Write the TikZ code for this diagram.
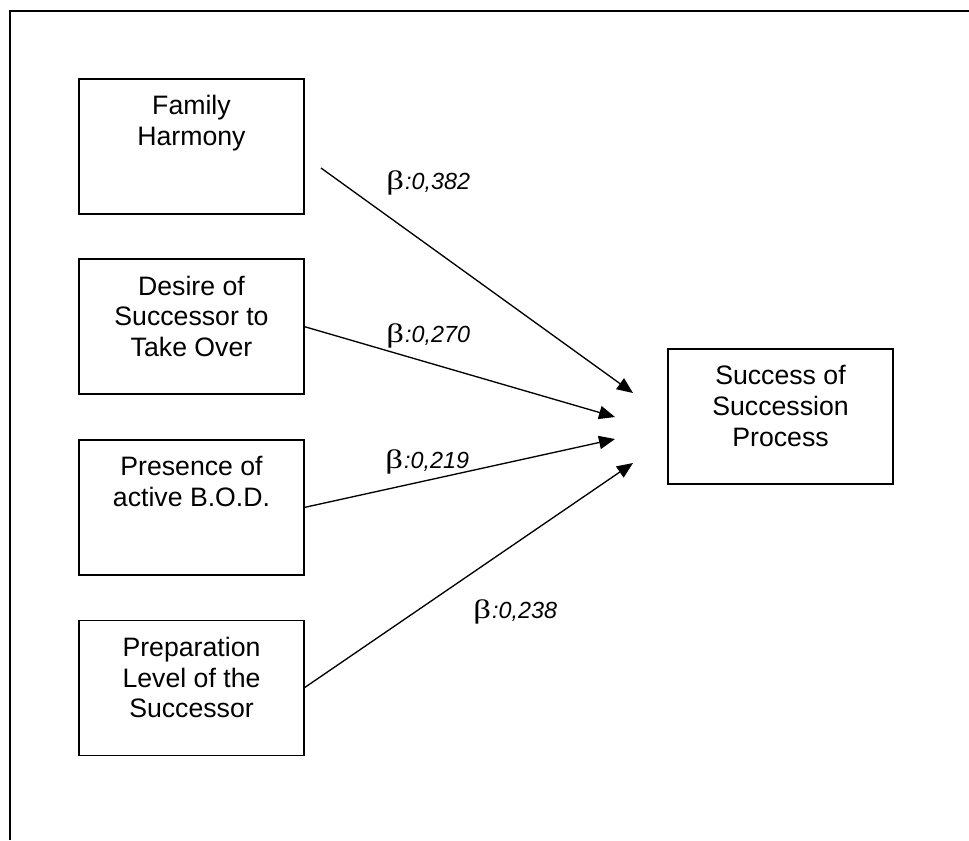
\documentclass[tikz,border=0pt]{standalone}
\usepackage{fontspec}
\usepackage{graphicx}
\setmainfont{Liberation Sans}
\newfontfamily\greekserif{Liberation Serif}
\usetikzlibrary{arrows.meta}
% fixed-size box content, text set from the top
\newcommand{\boxlines}[1]{\parbox[c][101.25pt][t]{168.75pt}{\centering\vspace*{12.5pt}#1\par}}
% regression coefficient label
\newcommand{\betalabel}[1]{{\greekserif\fontsize{20}{20}\selectfont\scalebox{1.3}[1]{β}}\hspace{1pt}{\fontsize{17.5}{19}\selectfont\itshape :#1}}
\begin{document}
\begin{tikzpicture}[x=0.75pt,y=-0.75pt,
  factor/.style={draw=black, line width=1.2pt, inner sep=0pt, outer sep=0pt,
                 font=\fontsize{20}{23}\selectfont},
  effect/.style={line width=1pt, -{Triangle[length=12pt,width=10pt]}},
  coef/.style={anchor=base west, inner sep=0pt}]
\useasboundingbox (0,0) rectangle (969,840);
% frame
\draw[line width=1.5pt] (10,840) -- (10,11) -- (969,11);

% predictors
\node[factor] (fh)   at (191.5,146.5) {\boxlines{Family\\Harmony}};
\node[factor] (ds)   at (191.5,326.5) {\boxlines{Desire of\\Successor to\\Take Over}};
\node[factor] (bod)  at (191.5,507.5) {\boxlines{Presence of\\active B.O.D.}};
\node[factor] (prep) at (191.5,688)   {\boxlines{Preparation\\Level of the\\Successor}};
% outcome
\node[factor] (succ) at (780.5,416.5) {\boxlines{Success of\\Succession\\Process}};

% arrow end points
\coordinate (s1) at (321,168);
\coordinate (t1) at (633,393);
\coordinate (t2) at (615,417);
\coordinate (t3) at (615,439);
\coordinate (t4) at (633,463);

\draw[effect] (s1) -- (t1);
\draw[effect] (ds.east) -- (t2);
\draw[effect] (bod.east) -- (t3);
\draw[effect] (prep.east) -- (t4);

% coefficients
\node[coef] (b1) at (386,189) {\betalabel{0,382}};
\node[coef] (b2) at (386,342) {\betalabel{0,270}};
\node[coef] (b3) at (385,468) {\betalabel{0,219}};
\node[coef] (b4) at (473,618) {\betalabel{0,238}};
\end{tikzpicture}
\end{document}
